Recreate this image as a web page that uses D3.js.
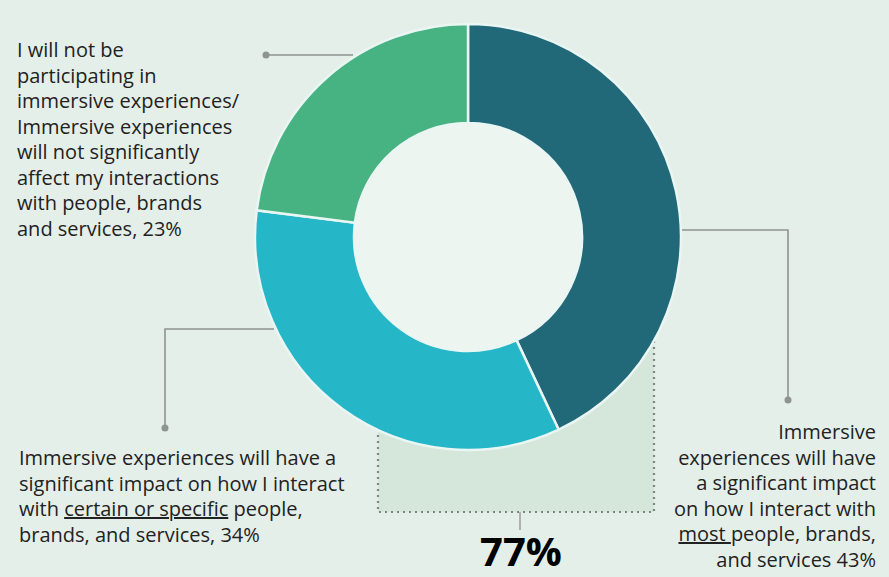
<!DOCTYPE html>
<html lang="en">
<head>
<meta charset="utf-8">
<title>Immersive experiences donut</title>
<script src="https://d3js.org/d3.v7.min.js"></script>
<style type="text/css">
  html, body { margin: 0; padding: 0; background: #e5efe9; }
  text { font-family: "Open Sans", sans-serif; }
</style>
</head>
<body>
<svg id="donut" width="889" height="577"></svg>
<script type="text/javascript">
// answer shares, clockwise from 12 o'clock
var categories = ["most", "certain", "none"];
var shares = [43, 34, 23];
var sliceColors = ["#216879", "#25b6c7", "#47b282"];
var combinedLabel = "77%";

// label text, one entry per line; underlined runs marked with _..._
var labelMost = ["Immersive", "experiences will have", "a significant impact",
                 "on how I interact with", "_most _people, brands,", "and services 43%"];
var labelCertain = ["Immersive experiences will have a", "significant impact on how I interact",
                    "with _certain or specific_ people,", "brands, and services, 34%"];
var labelNone = ["I will not be", "participating in", "immersive experiences/",
                 "Immersive experiences", "will not significantly", "affect my interactions",
                 "with people, brands", "and services, 23%"];

var svg = d3.select("#donut");
var cx = 468, cy = 237, rOuter = 213, rInner = 114;

// dotted box behind the bottom of the ring (most + certain = 77%)
svg.append("rect")
   .attr("x", 378).attr("y", 335)
   .attr("width", 276).attr("height", 177)
   .attr("fill", "#d4e7da")
   .attr("stroke", "#7f8582")
   .attr("stroke-width", 2.2)
   .attr("stroke-dasharray", "2,4");

svg.append("line")
   .attr("x1", 520).attr("x2", 520).attr("y1", 512).attr("y2", 530)
   .attr("stroke", "#9a9e9b").attr("stroke-width", 1.5);

svg.append("text")
   .attr("x", 521).attr("y", 566)
   .attr("text-anchor", "middle")
   .attr("font-family", "Liberation Sans, Arial, sans-serif")
   .attr("font-weight", "bold")
   .attr("font-size", "40px")
   .attr("fill", "#000")
   .text(combinedLabel);

var pie = d3.pie().sort(null).value(function(d) { return d; });
var arc = d3.arc().innerRadius(rInner).outerRadius(rOuter);

var g = svg.append("g").attr("transform", "translate(" + cx + "," + cy + ")");

g.append("circle").attr("r", rInner).attr("fill", "#ecf5f0");

g.selectAll("path")
 .data(pie(shares))
 .enter()
 .append("path")
 .attr("d", arc)
 .attr("fill", function(d, i) { return sliceColors[i]; })
 .attr("stroke", "#e9f6f3")
 .attr("stroke-width", 2.5);

// leader lines
var leaderColor = "#8e9490";
function leader(points) {
  svg.append("path")
     .attr("d", d3.line()(points))
     .attr("fill", "none")
     .attr("stroke", leaderColor)
     .attr("stroke-width", 1.6);
  var end = points[points.length - 1];
  svg.append("circle").attr("cx", end[0]).attr("cy", end[1]).attr("r", 3.5).attr("fill", leaderColor);
}
leader([[353, 55], [266, 55]]);
leader([[274, 329], [165, 329], [165, 428]]);
leader([[682, 230], [788, 230], [788, 400]]);

// multi-line labels with optional underlined runs
function label(lines, x, y0, anchor) {
  var t = svg.append("text")
     .attr("x", x).attr("y", y0)
     .attr("text-anchor", anchor)
     .attr("font-size", "20px")
     .attr("fill", "#222");
  lines.forEach(function(line, i) {
    var parts = line.split("_");
    parts.forEach(function(p, j) {
      if (p === "") return;
      var ts = t.append("tspan").text(p);
      if (j === 0 || (j === 1 && parts[0] === "")) ts.attr("x", x).attr("dy", i === 0 ? 0 : 25.5);
      if (j % 2 === 1) ts.attr("text-decoration", "underline");
    });
  });
}
label(labelNone, 17, 57, "start");
label(labelCertain, 19, 465, "start");
label(labelMost, 876, 439, "end");
</script>
</body>
</html>
